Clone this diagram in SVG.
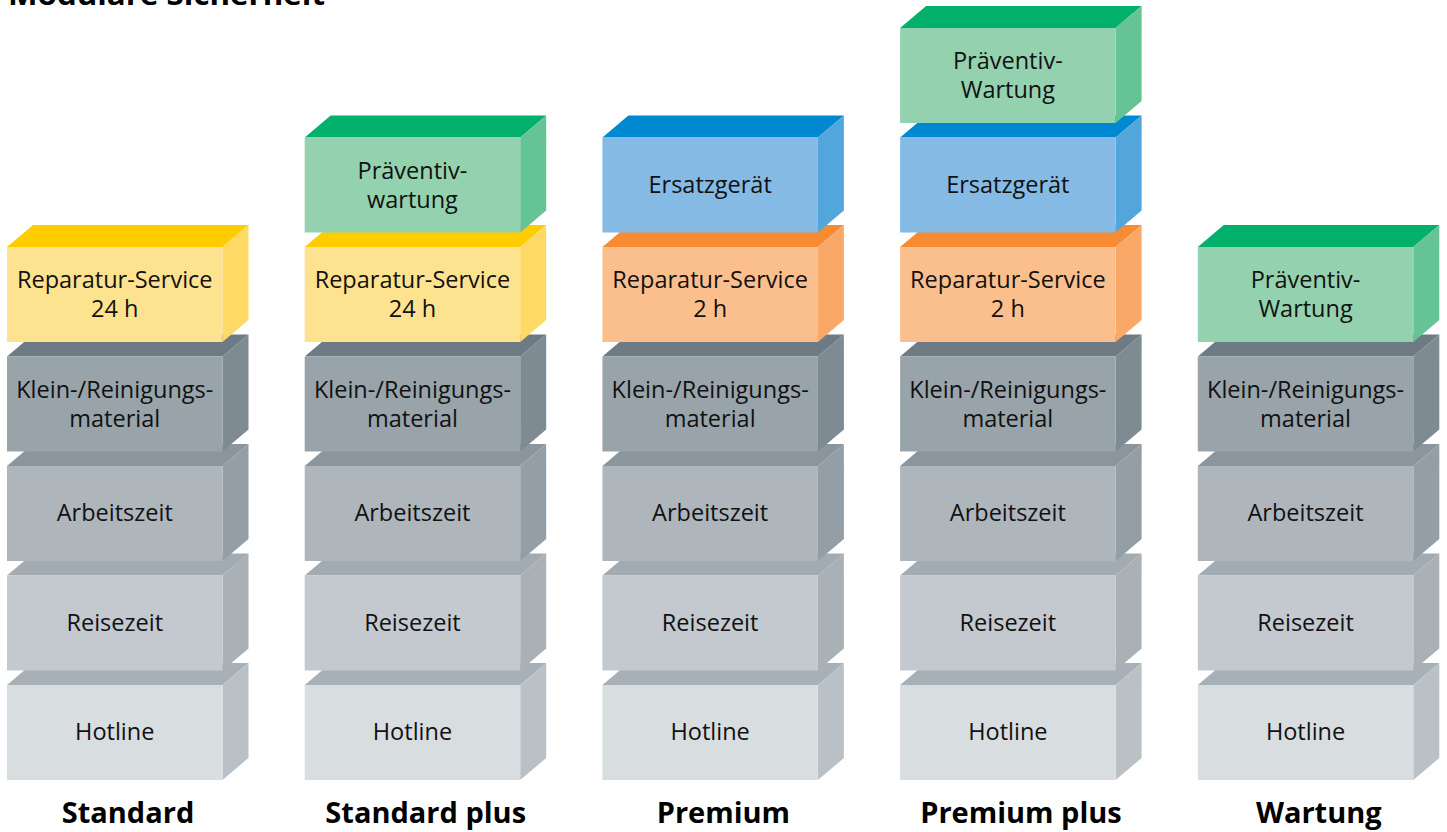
<svg xmlns="http://www.w3.org/2000/svg" width="1447" height="832" viewBox="0 0 1447 832">
<style>
.t{font-family:"Open Sans","Liberation Sans",sans-serif;font-size:23.5px;fill:#111;text-anchor:middle}
.lb{font-family:"Open Sans","Liberation Sans",sans-serif;font-size:29px;font-weight:bold;fill:#000;text-anchor:middle}
.yel{--tp:#FFCC00;--fr:#FDE290;--sd:#FED966}
.grn{--tp:#00B06B;--fr:#94D1AE;--sd:#66C395}
.blu{--tp:#0088D1;--fr:#84BAE4;--sd:#52A6DC}
.org{--tp:#F68B33;--fr:#FBBF8E;--sd:#F9A867}
.g1{--tp:#6F7B84;--fr:#98A3AA;--sd:#7F8B93}
.g2{--tp:#8A959D;--fr:#AEB6BC;--sd:#939EA6}
.g3{--tp:#A2ABB2;--fr:#C3C9CE;--sd:#A9B1B7}
.g4{--tp:#A8B0B7;--fr:#D8DDE0;--sd:#BAC1C6}
</style>
<defs>
<g id="box">
<polygon style="fill:var(--tp)" points="0,0 26,-22 241.5,-22 215.5,0"/>
<polygon style="fill:var(--sd)" points="215.5,0 241.5,-22 241.5,73 215.5,95"/>
<rect style="fill:var(--fr)" x="0" y="0" width="215.5" height="95"/>
</g>
</defs>
<text class="lb" x="8" y="5" style="text-anchor:start" textLength="317" lengthAdjust="spacingAndGlyphs">Modulare Sicherheit</text>

<!-- Column 1: Standard -->
<g id="col-standard">
<g id="s-hotline" class="g4" transform="translate(7,685)"><use href="#box"/><text class="t" x="107.75" y="55">Hotline</text></g>
<g id="s-reisezeit" class="g3" transform="translate(7,575.5)"><use href="#box"/><text class="t" x="107.75" y="55">Reisezeit</text></g>
<g id="s-arbeitszeit" class="g2" transform="translate(7,466)"><use href="#box"/><text class="t" x="107.75" y="55">Arbeitszeit</text></g>
<g id="s-klein" class="g1" transform="translate(7,356.5)"><use href="#box"/><text class="t" x="107.75" y="41">Klein-/Reinigungs-</text><text class="t" x="107.75" y="70">material</text></g>
<g id="s-reparatur" class="yel" transform="translate(7,247)"><use href="#box"/><text class="t" x="107.75" y="41">Reparatur-Service</text><text class="t" x="107.75" y="70">24 h</text></g>
<text class="lb" x="128" y="823">Standard</text>
</g>

<!-- Column 2: Standard plus -->
<g id="col-standard-plus">
<g id="sp-hotline" class="g4" transform="translate(304.7,685)"><use href="#box"/><text class="t" x="107.75" y="55">Hotline</text></g>
<g id="sp-reisezeit" class="g3" transform="translate(304.7,575.5)"><use href="#box"/><text class="t" x="107.75" y="55">Reisezeit</text></g>
<g id="sp-arbeitszeit" class="g2" transform="translate(304.7,466)"><use href="#box"/><text class="t" x="107.75" y="55">Arbeitszeit</text></g>
<g id="sp-klein" class="g1" transform="translate(304.7,356.5)"><use href="#box"/><text class="t" x="107.75" y="41">Klein-/Reinigungs-</text><text class="t" x="107.75" y="70">material</text></g>
<g id="sp-reparatur" class="yel" transform="translate(304.7,247)"><use href="#box"/><text class="t" x="107.75" y="41">Reparatur-Service</text><text class="t" x="107.75" y="70">24 h</text></g>
<g id="sp-praeventiv" class="grn" transform="translate(304.7,137.5)"><use href="#box"/><text class="t" x="107.75" y="41">Präventiv-</text><text class="t" x="107.75" y="70">wartung</text></g>
<text class="lb" x="425.7" y="823">Standard plus</text>
</g>

<!-- Column 3: Premium -->
<g id="col-premium">
<g id="p-hotline" class="g4" transform="translate(602.4,685)"><use href="#box"/><text class="t" x="107.75" y="55">Hotline</text></g>
<g id="p-reisezeit" class="g3" transform="translate(602.4,575.5)"><use href="#box"/><text class="t" x="107.75" y="55">Reisezeit</text></g>
<g id="p-arbeitszeit" class="g2" transform="translate(602.4,466)"><use href="#box"/><text class="t" x="107.75" y="55">Arbeitszeit</text></g>
<g id="p-klein" class="g1" transform="translate(602.4,356.5)"><use href="#box"/><text class="t" x="107.75" y="41">Klein-/Reinigungs-</text><text class="t" x="107.75" y="70">material</text></g>
<g id="p-reparatur" class="org" transform="translate(602.4,247)"><use href="#box"/><text class="t" x="107.75" y="41">Reparatur-Service</text><text class="t" x="107.75" y="70">2 h</text></g>
<g id="p-ersatz" class="blu" transform="translate(602.4,137.5)"><use href="#box"/><text class="t" x="107.75" y="55">Ersatzgerät</text></g>
<text class="lb" x="723.4" y="823">Premium</text>
</g>

<!-- Column 4: Premium plus -->
<g id="col-premium-plus">
<g id="pp-hotline" class="g4" transform="translate(900.1,685)"><use href="#box"/><text class="t" x="107.75" y="55">Hotline</text></g>
<g id="pp-reisezeit" class="g3" transform="translate(900.1,575.5)"><use href="#box"/><text class="t" x="107.75" y="55">Reisezeit</text></g>
<g id="pp-arbeitszeit" class="g2" transform="translate(900.1,466)"><use href="#box"/><text class="t" x="107.75" y="55">Arbeitszeit</text></g>
<g id="pp-klein" class="g1" transform="translate(900.1,356.5)"><use href="#box"/><text class="t" x="107.75" y="41">Klein-/Reinigungs-</text><text class="t" x="107.75" y="70">material</text></g>
<g id="pp-reparatur" class="org" transform="translate(900.1,247)"><use href="#box"/><text class="t" x="107.75" y="41">Reparatur-Service</text><text class="t" x="107.75" y="70">2 h</text></g>
<g id="pp-ersatz" class="blu" transform="translate(900.1,137.5)"><use href="#box"/><text class="t" x="107.75" y="55">Ersatzgerät</text></g>
<g id="pp-praeventiv" class="grn" transform="translate(900.1,28)"><use href="#box"/><text class="t" x="107.75" y="41">Präventiv-</text><text class="t" x="107.75" y="70">Wartung</text></g>
<text class="lb" x="1021" y="823">Premium plus</text>
</g>

<!-- Column 5: Wartung -->
<g id="col-wartung">
<g id="w-hotline" class="g4" transform="translate(1197.8,685)"><use href="#box"/><text class="t" x="107.75" y="55">Hotline</text></g>
<g id="w-reisezeit" class="g3" transform="translate(1197.8,575.5)"><use href="#box"/><text class="t" x="107.75" y="55">Reisezeit</text></g>
<g id="w-arbeitszeit" class="g2" transform="translate(1197.8,466)"><use href="#box"/><text class="t" x="107.75" y="55">Arbeitszeit</text></g>
<g id="w-klein" class="g1" transform="translate(1197.8,356.5)"><use href="#box"/><text class="t" x="107.75" y="41">Klein-/Reinigungs-</text><text class="t" x="107.75" y="70">material</text></g>
<g id="w-praeventiv" class="grn" transform="translate(1197.8,247)"><use href="#box"/><text class="t" x="107.75" y="41">Präventiv-</text><text class="t" x="107.75" y="70">Wartung</text></g>
<text class="lb" x="1318.8" y="823">Wartung</text>
</g>
<g id="connectors"/>
</svg>
